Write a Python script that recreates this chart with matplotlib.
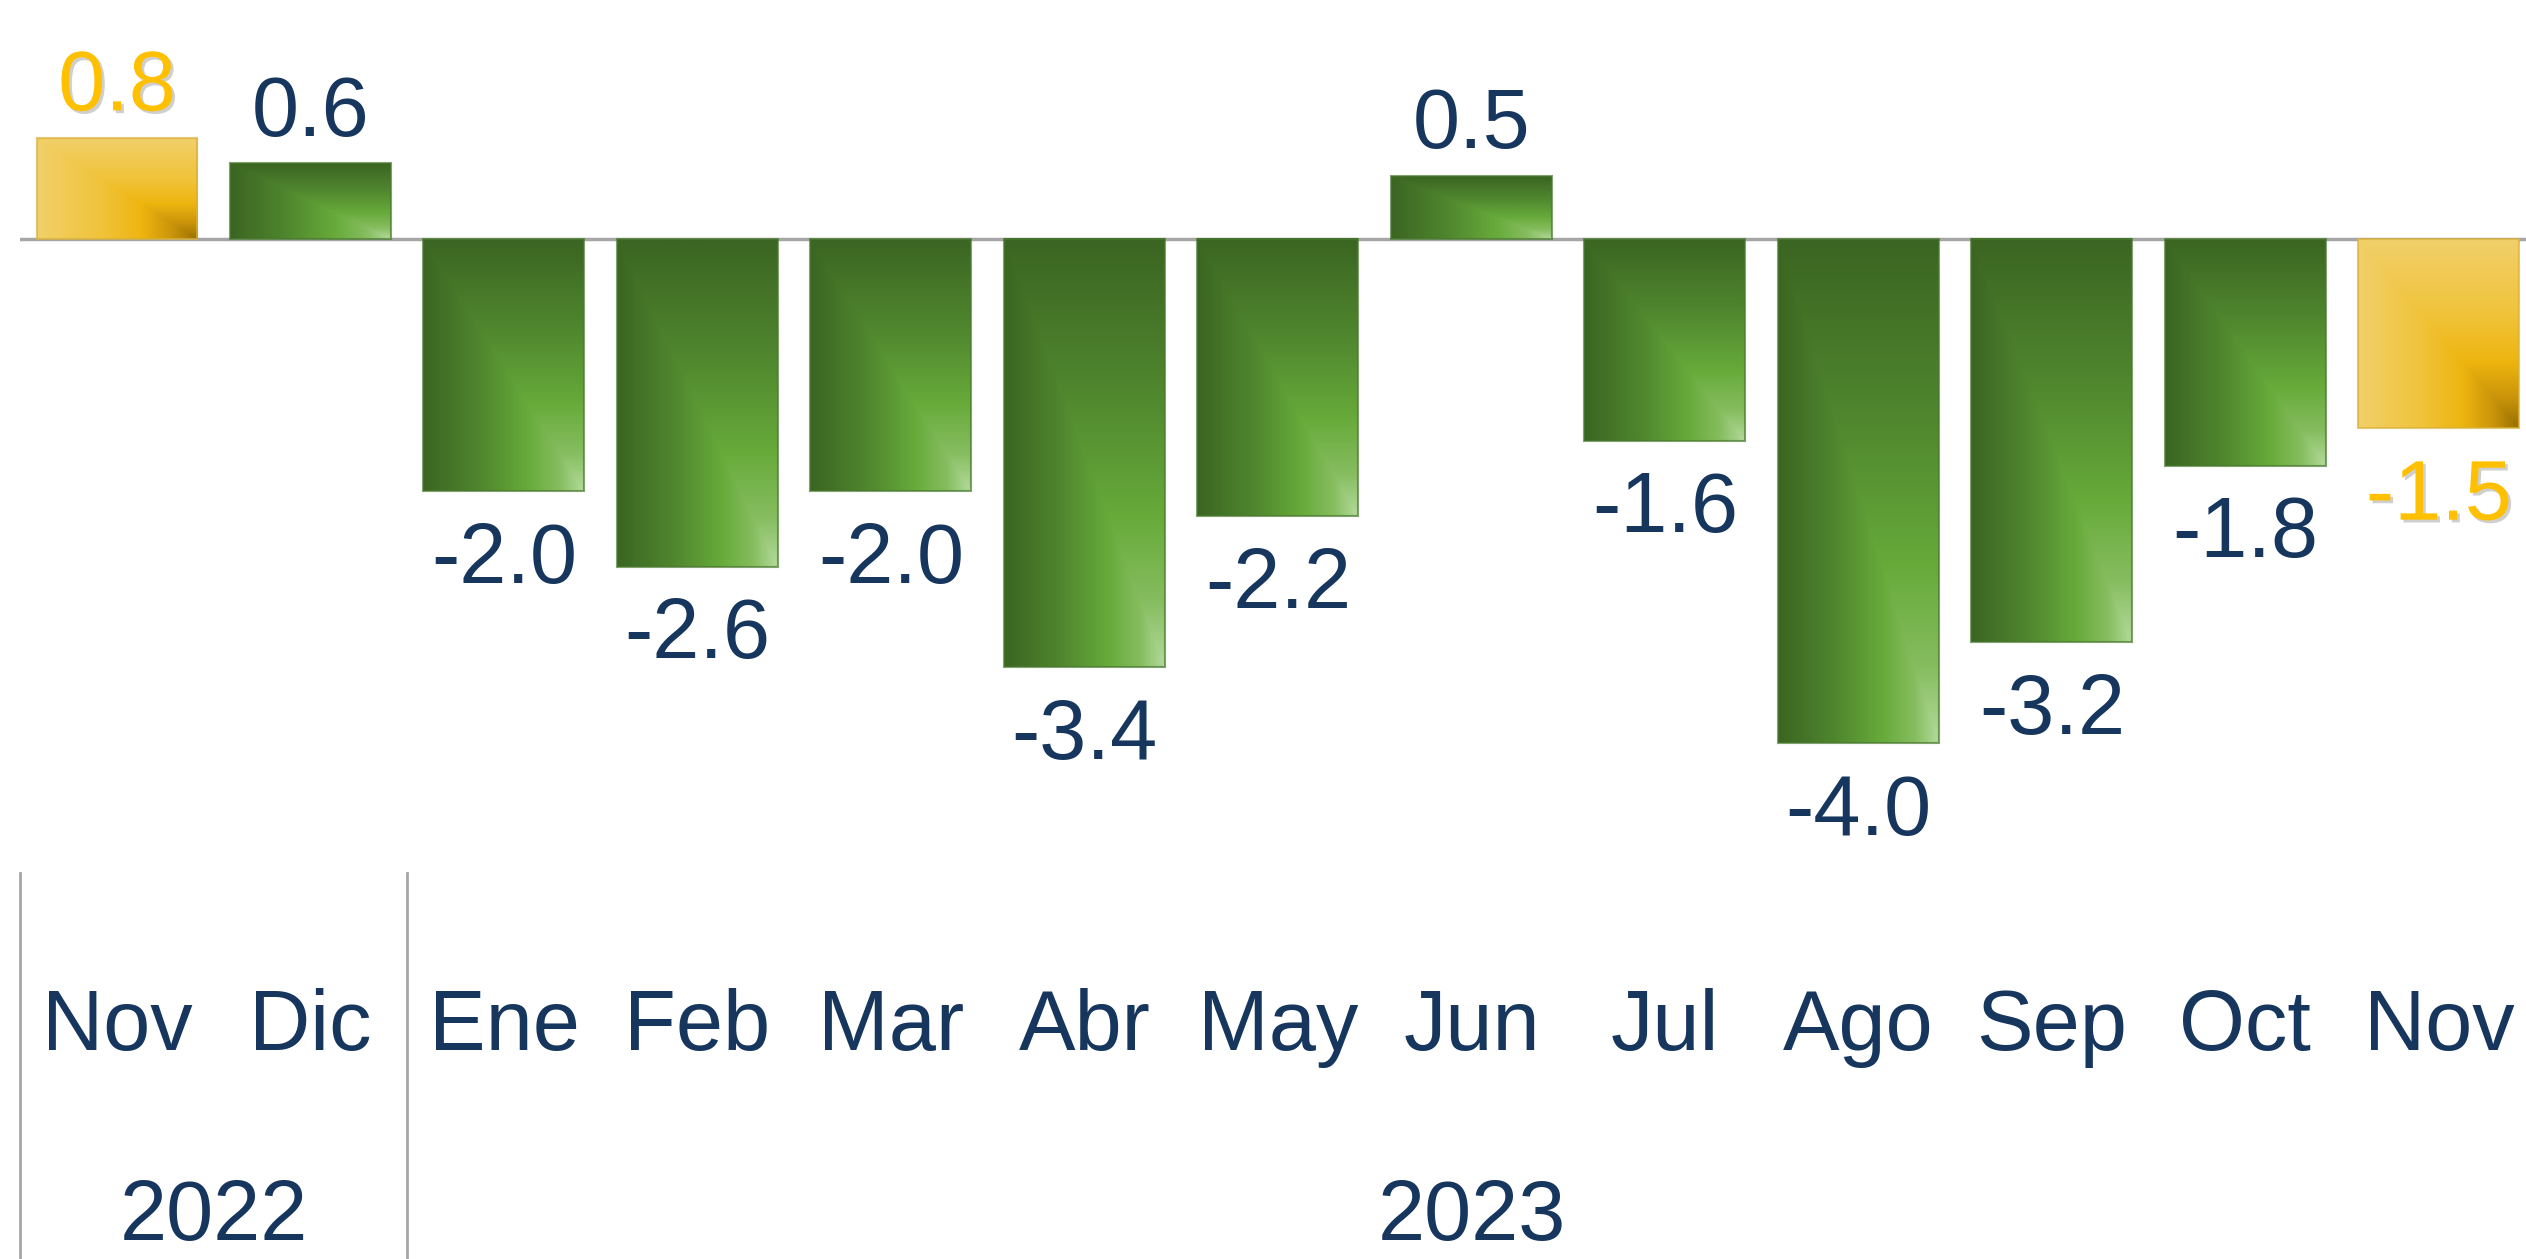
import numpy as np
import matplotlib
matplotlib.use("Agg")
import matplotlib.pyplot as plt
from matplotlib.colors import LinearSegmentedColormap
from matplotlib.transforms import blended_transform_factory
import matplotlib.patheffects as pe

plt.rcParams['font.family'] = ['Liberation Sans', 'DejaVu Sans']

months = ['Nov', 'Dic', 'Ene', 'Feb', 'Mar', 'Abr', 'May', 'Jun', 'Jul', 'Ago', 'Sep', 'Oct', 'Nov']
values = [0.8, 0.6, -2.0, -2.6, -2.0, -3.4, -2.2, 0.5, -1.6, -4.0, -3.2, -1.8, -1.5]
highlight = [True, False, False, False, False, False, False, False, False, False, False, False, True]
years = ['2022', '2023']
year_pos = [0.5, 7.0]
year_breaks = [-0.5, 1.5]

navy = '#17365D'
gold = '#FFC000'
line_gray = '#A6A6A6'

green_cmap = LinearSegmentedColormap.from_list(
    'g', [(0, '#3B6522'), (0.35, '#4F862E'), (0.65, '#67AA3A'), (0.85, '#86BD5F'), (1, '#B2DA9A')])
gold_cmap = LinearSegmentedColormap.from_list(
    'y', [(0, '#F2D06A'), (0.4, '#F0C33A'), (0.65, '#EEB50F'), (0.85, '#C8930A'), (1, '#987000')])

W, H = 2526, 1259
fs = 61
fig = plt.figure(figsize=(W / 100, H / 100), dpi=100)
# zero line at 239 px from top, 126 px per unit
ax_left_px = 20.25
ax_bottom_px = 870
ax = fig.add_axes([ax_left_px / W, 1 - ax_bottom_px / H, 1 - ax_left_px / W, ax_bottom_px / H])
ymax = 239 / 126
ymin = -(ax_bottom_px - 239) / 126

x = np.arange(len(values))
bars = ax.bar(x, values, width=0.832, color='none', edgecolor='none', zorder=2)

# corner gradient: dark at left/top edges, light toward bottom-right corner
n = 300
xf, yf = np.meshgrid(np.linspace(0, 1, n), np.linspace(0, 1, n))
grad = np.minimum(xf, yf)
for b, hl in zip(bars, highlight):
    x0, y0 = b.get_x(), b.get_y()
    w, h = b.get_width(), b.get_height()
    ytop, ybot = max(y0, y0 + h), min(y0, y0 + h)
    cmap = gold_cmap if hl else green_cmap
    ax.imshow(grad, cmap=cmap, extent=[x0, x0 + w, ybot, ytop], origin='upper',
              aspect='auto', interpolation='bilinear', zorder=2)
    edge = '#D9B13A' if hl else '#4A7A30'
    ax.add_patch(plt.Rectangle((x0, ybot), w, ytop - ybot, fill=False, edgecolor=edge,
                               linewidth=1.5, alpha=0.7, zorder=3))

ax.axhline(0, color=line_gray, linewidth=2.5, zorder=1)

for xi, v, hl in zip(x, values, highlight):
    col = gold if hl else navy
    effects = [pe.SimplePatchShadow(offset=(2, -2), shadow_rgbFace='#777777', alpha=0.35), pe.Normal()] if hl else None
    dy = 20 if v >= 0 else -66
    ax.annotate(f'{v:.1f}', (xi, v), xytext=(0, dy), textcoords='offset points',
                ha='center', va='baseline', fontsize=fs, color=col, path_effects=effects)

ax.set_xlim(-0.5, 12.45)
ax.set_ylim(ymin, ymax)
ax.axis('off')

tr = blended_transform_factory(ax.transData, fig.transFigure)
for xi, m in zip(x, months):
    ax.text(xi, 1 - 1050 / H, m, transform=tr, ha='center', va='baseline',
            fontsize=fs, color=navy, clip_on=False)
for xp, yr in zip(year_pos, years):
    ax.text(xp, 1 - 1240 / H, yr, transform=tr, ha='center', va='baseline',
            fontsize=fs, color=navy, clip_on=False)
for xb in year_breaks:
    ax.plot([xb, xb], [0, 1 - 873 / H], transform=tr, color=line_gray,
            linewidth=2, clip_on=False)

fig.savefig('out.png', dpi=100)
